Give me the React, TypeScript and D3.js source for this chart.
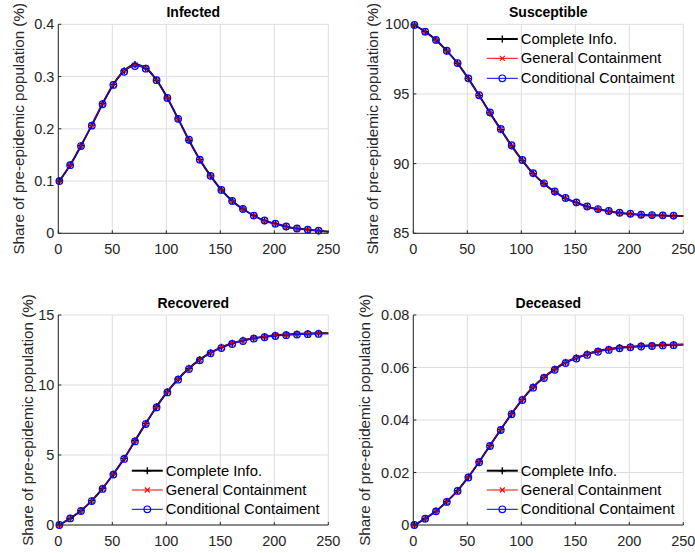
import React, { useEffect, useRef } from 'react';
import * as d3 from 'd3';

// days where values were read (markers every 10 days, last point = end of line)
const days = [1, 11, 21, 31, 41, 51, 61, 71, 81, 91, 101, 111, 121, 131, 141, 151, 161, 171, 181, 191, 201, 211, 221, 231, 241, 250];

const infectedComplete = [0.100, 0.1306, 0.1675, 0.207, 0.248, 0.285, 0.311, 0.323, 0.316, 0.293, 0.259, 0.219, 0.178, 0.141, 0.110, 0.083, 0.062, 0.0465, 0.034, 0.024, 0.0185, 0.0127, 0.009, 0.007, 0.005, 0.003];
const infectedGeneral = [0.100, 0.1306, 0.1675, 0.207, 0.248, 0.285, 0.311, 0.322, 0.316, 0.293, 0.259, 0.219, 0.178, 0.141, 0.110, 0.083, 0.062, 0.0465, 0.034, 0.024, 0.0185, 0.0127, 0.009, 0.007, 0.005, 0.003];
const infectedConditional = [0.100, 0.1303, 0.167, 0.206, 0.247, 0.284, 0.309, 0.320, 0.315, 0.293, 0.259, 0.219, 0.179, 0.141, 0.110, 0.083, 0.062, 0.0467, 0.034, 0.0245, 0.0185, 0.013, 0.0092, 0.007, 0.0052, 0.0032];

const susceptibleComplete = [99.95, 99.47, 98.87, 98.09, 97.2, 96.1, 94.88, 93.64, 92.44, 91.27, 90.22, 89.28, 88.56, 87.97, 87.51, 87.2, 86.91, 86.72, 86.58, 86.46, 86.39, 86.32, 86.29, 86.27, 86.25, 86.24];
const susceptibleGeneral = [99.95, 99.47, 98.87, 98.09, 97.2, 96.1, 94.88, 93.65, 92.45, 91.28, 90.22, 89.28, 88.56, 87.97, 87.51, 87.2, 86.91, 86.72, 86.58, 86.46, 86.39, 86.32, 86.29, 86.27, 86.25, 86.24];
const susceptibleConditional = [99.95, 99.47, 98.88, 98.10, 97.22, 96.12, 94.91, 93.68, 92.49, 91.32, 90.26, 89.32, 88.59, 88.0, 87.54, 87.22, 86.93, 86.74, 86.6, 86.48, 86.41, 86.34, 86.31, 86.29, 86.27, 86.26];

const recoveredComplete = [0, 0.48, 1.02, 1.74, 2.62, 3.64, 4.76, 6.02, 7.26, 8.45, 9.52, 10.43, 11.19, 11.81, 12.31, 12.69, 12.98, 13.19, 13.36, 13.45, 13.55, 13.6, 13.64, 13.67, 13.69, 13.7];
const recoveredGeneral = [0, 0.48, 1.02, 1.74, 2.62, 3.64, 4.76, 6.01, 7.25, 8.44, 9.51, 10.42, 11.18, 11.8, 12.3, 12.68, 12.97, 13.18, 13.35, 13.44, 13.54, 13.59, 13.63, 13.66, 13.68, 13.69];
const recoveredConditional = [0, 0.47, 1.0, 1.71, 2.58, 3.6, 4.72, 5.97, 7.21, 8.4, 9.47, 10.38, 11.14, 11.76, 12.26, 12.64, 12.93, 13.14, 13.31, 13.41, 13.5, 13.56, 13.6, 13.63, 13.65, 13.66];

const deceasedComplete = [0, 0.0024, 0.0053, 0.0089, 0.0131, 0.0183, 0.0241, 0.0303, 0.0364, 0.0424, 0.0479, 0.0526, 0.0563, 0.0594, 0.062, 0.0637, 0.0651, 0.0663, 0.067, 0.0676, 0.0679, 0.0682, 0.0684, 0.0686, 0.0687, 0.0688];
const deceasedGeneral = [0, 0.0024, 0.0053, 0.0089, 0.0131, 0.0183, 0.0241, 0.0303, 0.0364, 0.0424, 0.0479, 0.0526, 0.0563, 0.0594, 0.062, 0.0637, 0.0651, 0.0663, 0.067, 0.0676, 0.0679, 0.0682, 0.0684, 0.0686, 0.0687, 0.0688];
const deceasedConditional = [0, 0.0024, 0.0052, 0.0088, 0.013, 0.0181, 0.0239, 0.0301, 0.0362, 0.0422, 0.0476, 0.0523, 0.056, 0.0591, 0.0617, 0.0634, 0.0648, 0.066, 0.0667, 0.0673, 0.0677, 0.068, 0.0682, 0.0684, 0.0685, 0.0686];

const xTicks = [0, 50, 100, 150, 200, 250];
const infectedTicks = [0, 0.1, 0.2, 0.3, 0.4];
const susceptibleTicks = [85, 90, 95, 100];
const recoveredTicks = [0, 5, 10, 15];
const deceasedTicks = [0, 0.02, 0.04, 0.06, 0.08];

const seriesNames = ['Complete Info.', 'General Containment', 'Conditional Contaiment'];

const panels = [
  { title: 'Infected', ticks: infectedTicks, data: [infectedComplete, infectedGeneral, infectedConditional], legend: null },
  { title: 'Susceptible', ticks: susceptibleTicks, data: [susceptibleComplete, susceptibleGeneral, susceptibleConditional], legend: 'top' },
  { title: 'Recovered', ticks: recoveredTicks, data: [recoveredComplete, recoveredGeneral, recoveredConditional], legend: 'bottom' },
  { title: 'Deceased', ticks: deceasedTicks, data: [deceasedComplete, deceasedGeneral, deceasedConditional], legend: 'bottom' },
];

const styles = [
  { color: '#000000', width: 2, marker: 'plus' },
  { color: '#ff0000', width: 1, marker: 'x' },
  { color: '#0000ff', width: 1, marker: 'circle' },
];

const FONT = 'Liberation Sans, Arial, Helvetica, sans-serif';
const AXIS = '#262626';

const drawMarker = (g, kind, x, y, color) => {
  if (kind === 'plus') {
    g.append('path').attr('d', `M${x - 3.5},${y}H${x + 3.5}M${x},${y - 3.5}V${y + 3.5}`)
      .attr('stroke', color).attr('stroke-width', 1.4).attr('fill', 'none');
  } else if (kind === 'x') {
    g.append('path').attr('d', `M${x - 2.5},${y - 2.5}L${x + 2.5},${y + 2.5}M${x - 2.5},${y + 2.5}L${x + 2.5},${y - 2.5}`)
      .attr('stroke', color).attr('stroke-width', 1.1).attr('fill', 'none');
  } else {
    g.append('circle').attr('cx', x).attr('cy', y).attr('r', 3.3)
      .attr('stroke', color).attr('stroke-width', 1.2).attr('fill', 'none');
  }
};

const App = () => {
  const svgRef = useRef(null);

  useEffect(() => {
    if (!svgRef.current) return;
    const svg = d3.select(svgRef.current);
    svg.selectAll('*').remove();

    const boxes = [
      { left: 58.3, right: 328.3, top: 24.3, bottom: 233.3 },
      { left: 413.3, right: 683.3, top: 24.3, bottom: 233.3 },
      { left: 58.3, right: 328.3, top: 315, bottom: 525 },
      { left: 413.3, right: 683.3, top: 315, bottom: 525 },
    ];
    const labelOffsets = [34, 35.3, 25.3, 43];

    panels.forEach((p, i) => {
      const b = boxes[i];
      const x = d3.scaleLinear().domain([0, 250]).range([b.left, b.right]);
      const y = d3.scaleLinear().domain([p.ticks[0], p.ticks[p.ticks.length - 1]]).range([b.bottom, b.top]);
      const g = svg.append('g');

      // grid
      xTicks.forEach(t => {
        g.append('line').attr('x1', x(t)).attr('x2', x(t)).attr('y1', b.top).attr('y2', b.bottom)
          .attr('stroke', '#dedede').attr('stroke-width', 1);
      });
      p.ticks.forEach(t => {
        g.append('line').attr('x1', b.left).attr('x2', b.right).attr('y1', y(t)).attr('y2', y(t))
          .attr('stroke', '#dedede').attr('stroke-width', 1);
      });

      // series
      const line = d3.line().x((d, j) => x(days[j])).y(d => y(d)).curve(d3.curveMonotoneX);
      p.data.forEach((vals, s) => {
        const st = styles[s];
        g.append('path').datum(vals).attr('d', line).attr('fill', 'none')
          .attr('stroke', st.color).attr('stroke-width', st.width);
        vals.slice(0, 25).forEach((v, j) => drawMarker(g, st.marker, x(days[j]), y(v), st.color));
      });

      // axes
      g.append('line').attr('x1', b.left).attr('x2', b.right).attr('y1', b.bottom).attr('y2', b.bottom)
        .attr('stroke', AXIS).attr('stroke-width', 1);
      g.append('line').attr('x1', b.left).attr('x2', b.left).attr('y1', b.top).attr('y2', b.bottom)
        .attr('stroke', AXIS).attr('stroke-width', 1);
      xTicks.forEach(t => {
        g.append('line').attr('x1', x(t)).attr('x2', x(t)).attr('y1', b.bottom).attr('y2', b.bottom - 3)
          .attr('stroke', AXIS);
        g.append('text').attr('x', x(t)).attr('y', b.bottom + 21).attr('text-anchor', 'middle')
          .attr('font-family', FONT).attr('font-size', 14.5).attr('fill', AXIS).text(t);
      });
      p.ticks.forEach(t => {
        g.append('line').attr('x1', b.left).attr('x2', b.left + 3).attr('y1', y(t)).attr('y2', y(t))
          .attr('stroke', AXIS);
        g.append('text').attr('x', b.left - 4).attr('y', y(t) + 5).attr('text-anchor', 'end')
          .attr('font-family', FONT).attr('font-size', 14.5).attr('fill', AXIS).text(String(t));
      });

      // title
      g.append('text').attr('x', (b.left + b.right) / 2).attr('y', b.top - 7.5).attr('text-anchor', 'middle')
        .attr('font-family', FONT).attr('font-size', 14).attr('font-weight', 'bold').attr('fill', '#000')
        .text(p.title);

      // y label
      const lx = b.left - labelOffsets[i];
      const ly = (b.top + b.bottom) / 2;
      g.append('text').attr('transform', `translate(${lx},${ly}) rotate(-90)`).attr('text-anchor', 'middle')
        .attr('font-family', FONT).attr('font-size', 15.2).attr('fill', AXIS)
        .text('Share of pre-epidemic population (%)');

      // legend
      if (p.legend) {
        const rows = p.legend === 'top'
          ? [b.top + 14.7, b.top + 34, b.top + 54]
          : [b.bottom - 54.3, b.bottom - 35, b.bottom - 15.7];
        const lx0 = b.left + 73.5;
        seriesNames.forEach((name, s) => {
          const st = styles[s];
          g.append('line').attr('x1', lx0).attr('x2', lx0 + 31).attr('y1', rows[s]).attr('y2', rows[s])
            .attr('stroke', st.color).attr('stroke-width', st.width);
          drawMarker(g, st.marker, lx0 + 15.5, rows[s], st.color);
          g.append('text').attr('x', lx0 + 34).attr('y', rows[s] + 5)
            .attr('font-family', FONT).attr('font-size', 14.8).attr('fill', '#000').text(name);
        });
      }
    });
  }, []);

  return (
    <svg ref={svgRef} width={695} height={553}
      style={{ position: 'absolute', left: 0, top: 0, background: '#fff' }} />
  );
};

export default App;
